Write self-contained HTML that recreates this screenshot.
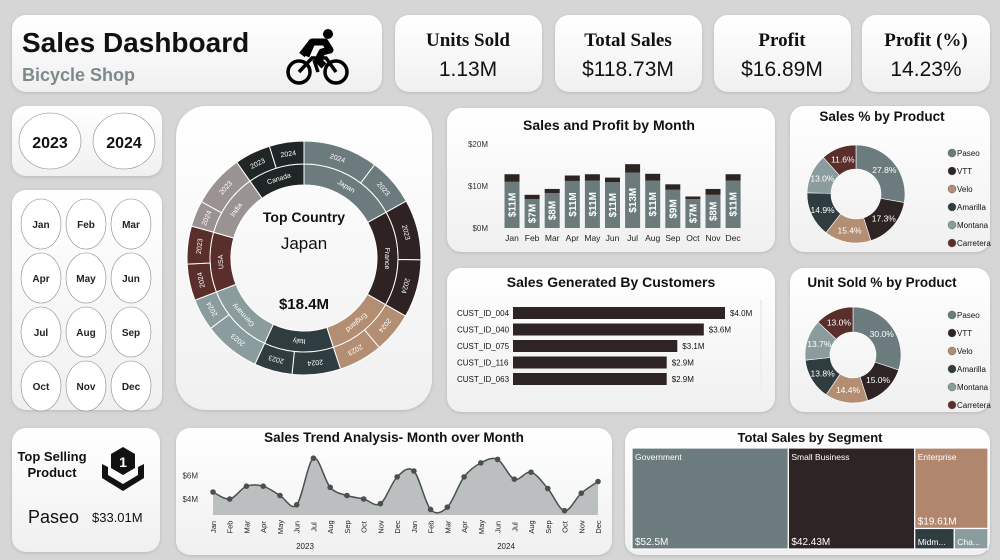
<!DOCTYPE html>
<html><head><meta charset="utf-8"><style>
body{margin:0;width:1000px;height:560px;background:#d6d6d6;overflow:hidden;font-family:"Liberation Sans",sans-serif}
svg{position:absolute;left:0;top:0}
text{font-family:"Liberation Sans",sans-serif}
text.serif{font-family:"Liberation Serif",serif}
</style></head><body>
<svg id="s" width="1000" height="560" viewBox="0 0 1000 560">
<defs>
<linearGradient id="pg" x1="0" y1="0" x2="0" y2="1"><stop offset="0" stop-color="#ffffff"/><stop offset="1" stop-color="#f0f0f0"/></linearGradient>
<filter id="sh" x="-5%" y="-5%" width="110%" height="115%"><feDropShadow dx="0" dy="1" stdDeviation="1.5" flood-color="#999" flood-opacity="0.5"/></filter>
</defs>
<g id="panels"></g>
<g id="static"></g>
<g id="charts"></g>
</svg>
<script>
// ----- chart data -----
const months=["Jan","Feb","Mar","Apr","May","Jun","Jul","Aug","Sep","Oct","Nov","Dec"];
const monthSales=[11,6.9,8.3,11.2,11.3,10.9,13.2,11.3,9.1,6.9,7.9,11.3];
const monthProfit=[1.8,1.0,1.0,1.3,1.5,1.1,2.0,1.6,1.3,0.6,1.4,1.5];
const monthLabels=["$11M","$7M","$8M","$11M","$11M","$11M","$13M","$11M","$9M","$7M","$8M","$11M"];
const barTicks=[0,10,20];
const custNames=["CUST_ID_004","CUST_ID_040","CUST_ID_075","CUST_ID_116","CUST_ID_063"];
const custValues=[4.0,3.6,3.1,2.9,2.9];
const products=["Paseo","VTT","Velo","Amarilla","Montana","Carretera"];
const salesPct=[27.8,17.3,15.4,14.9,13.0,11.6];
const unitPct=[30.0,15.0,14.4,13.8,13.7,13.0];
const trendValues=[4.6,4.0,5.1,5.1,4.3,3.5,7.5,5.0,4.3,4.0,3.6,5.9,6.4,3.1,3.3,5.9,7.1,7.4,5.7,6.3,4.9,3.0,4.5,5.5];
const trendTicks=[4,6];
const countries=["Japan","France","England","Italy","Germany","USA","India","Canada"];
const countrySales=[18.4,17.8,12.7,13.0,13.3,11.2,11.8,10.6];
const yearOrder=[["2024","2023"],["2023","2024"],["2024","2023"],["2024","2023"],["2023","2024"],["2024","2023"],["2024","2023"],["2023","2024"]];
const yearShare=[[0.61,0.39],[0.51,0.49],[0.48,0.52],[0.56,0.44],[0.64,0.36],[0.49,0.51],[0.33,0.67],[0.51,0.49]];
const segments=["Government","Small Business","Enterprise","Midm...","Cha..."];
const segValues=[52.5,42.43,19.61,2.7,2.3];
const segLabels=["$52.5M","$42.43M","$19.61M","",""];

const NS="http://www.w3.org/2000/svg";
function el(tag,attrs,parent,txt){const e=document.createElementNS(NS,tag);for(const k in attrs)e.setAttribute(k,attrs[k]);if(txt!==undefined)e.textContent=txt;parent.appendChild(e);return e;}
const P=document.getElementById('panels'),S=document.getElementById('static'),C=document.getElementById('charts');
const colP=["#6b7b7e","#2e2424","#b48e72","#2f3d40","#8a9c9e","#5a2e2a"];

// panels
const panels=[["title-card",12,15,370,77],["units-sold-card",395,15,147,77],["total-sales-card",555,15,147,77],["profit-card",714,15,137,77],["profit-pct-card",862,15,128,77],
["year-slicer",12,106,150,70],["month-slicer",12,190,150,220],["top-product-card",12,428,148,124],["country-sunburst-card",176,106,256,304],
["sales-profit-card",447,108,328,144],["customers-card",447,268,328,144],["sales-pct-card",790,106,200,146],["unit-pct-card",790,268,200,144],
["trend-card",176,428,436,127],["segment-card",625,428,365,127]];
panels.forEach(p=>{const r=el('rect',{x:p[1],y:p[2],width:p[3],height:p[4],rx:p[0]=="country-sunburst-card"?30:14,fill:"url(#pg)",filter:"url(#sh)"},P);

});

// title
let t=el('text',{x:22,y:52,'font-size':28,'font-weight':'bold',fill:'#111'},S,"Sales Dashboard");
t=el('text',{x:22,y:81,'font-size':18,'font-weight':'bold',fill:'#7d8a8c'},S,"Bicycle Shop");
// bicycle icon
const bike=el('g',{fill:'none',stroke:'#000','stroke-width':3.5},S);
el('circle',{cx:299,cy:72,r:11},bike);el('circle',{cx:336,cy:72,r:11},bike);
el('path',{d:'M299 72 L312 58 L326 58 L336 72 M314 60 L318 72',stroke:'#000'},bike);
el('circle',{cx:328,cy:34,r:5,fill:'#000',stroke:'none'},bike);
el('path',{d:'M302 55 L312 42 L325 42 L330 50 L322 52 L318 60 L324 66 M312 42 L306 56',stroke:'#000','stroke-width':7,'stroke-linejoin':'round'},bike);

// KPIs
[["units-sold",468,"Units Sold","1.13M"],["total-sales",628,"Total Sales","$118.73M"],["profit",782,"Profit","$16.89M"],["profit-pct",926,"Profit (%)","14.23%"]].forEach(k=>{
 let a=el('text',{x:k[1],y:46,'text-anchor':'middle','font-size':19,'font-weight':'bold',fill:'#111',class:'serif'},S,k[2]);
 let b=el('text',{x:k[1],y:76,'text-anchor':'middle','font-size':21,fill:'#111'},S,k[3]);});

// year slicer
[["2023",50],["2024",124]].forEach(y=>{const g=el('g',{},S);
 el('ellipse',{cx:y[1],cy:141,rx:31,ry:28,fill:'#fff',stroke:'#888','stroke-width':0.6},g);el('text',{x:y[1],y:148,'text-anchor':'middle','font-size':16,'font-weight':'bold',fill:'#111'},g,y[0]);});
// month slicer
months.forEach((m,i)=>{const cx=41+(i%3)*45,cy=224+Math.floor(i/3)*54;const g=el('g',{},S);
 el('ellipse',{cx:cx,cy:cy,rx:20,ry:25,fill:'#fff',stroke:'#888','stroke-width':0.6},g);el('text',{x:cx,y:cy+4,'text-anchor':'middle','font-size':10,'font-weight':'bold',fill:'#222'},g,m);});
// top product
t=el('text',{x:52,y:461,'text-anchor':'middle','font-size':13,'font-weight':'bold',fill:'#111'},S,"Top Selling");
el('text',{x:52,y:477,'text-anchor':'middle','font-size':13,'font-weight':'bold',fill:'#111'},S,"Product");
const badge=el('g',{},S);
el('path',{d:'M123 447 L135 454 L135 468 L123 475 L111 468 L111 454 Z',fill:'#111'},badge);
el('path',{d:'M102 464 L108 467 L108 475 L123 484 L138 475 L138 467 L144 464 L144 478 L123 491 L102 478 Z',fill:'#111'},badge);
el('text',{x:123,y:467,'text-anchor':'middle','font-size':14,'font-weight':'bold',fill:'#fff'},badge,"1");
t=el('text',{x:28,y:523,'font-size':18,fill:'#111'},S,"Paseo");
t=el('text',{x:92,y:522,'font-size':13,fill:'#111'},S,"$33.01M");

// ---- sunburst ----
(function(){const cx=304,cy=258,r0=73,r1=94,r2=117;const tot=countrySales.reduce((a,b)=>a+b,0);
 const cc=["#6b7b7e","#2e2222","#b48e72","#2f3d40","#8a9c9e","#5a2e2a","#9a9391","#1f2625"];
 function pt(r,a){const rad=(a-90)*Math.PI/180;return [cx+r*Math.cos(rad),cy+r*Math.sin(rad)];}
 function arc(ri,ro,a0,a1){const p0=pt(ro,a0),p1=pt(ro,a1),p2=pt(ri,a1),p3=pt(ri,a0),lg=(a1-a0)>180?1:0;
  return `M${p0} A${ro} ${ro} 0 ${lg} 1 ${p1} L${p2} A${ri} ${ri} 0 ${lg} 0 ${p3} Z`;}
 function lab(r,a,txt,g){const p=pt(r,a);el('text',{x:p[0],y:p[1]+2.5,'text-anchor':'middle','font-size':7,fill:'#fff',transform:`rotate(${a} ${p[0]} ${p[1]})`},g,txt);}
 let a=0;countries.forEach((c,i)=>{const span=countrySales[i]/tot*360;const g=el('g',{},C);
  
  
  el('path',{d:arc(r0,r1,a,a+span),fill:cc[i],stroke:'#fff','stroke-width':1},g);lab((r0+r1)/2,a+span/2,c,g);
  let b=a;yearOrder[i].forEach((y,j)=>{const s2=span*yearShare[i][j];el('path',{d:arc(r1,r2,b,b+s2),fill:cc[i],stroke:'#fff','stroke-width':1},g);lab((r1+r2)/2,b+s2/2,y,g);b+=s2;});
  a+=span;});
 let x=el('text',{x:cx,y:222,'text-anchor':'middle','font-size':14,'font-weight':'bold',fill:'#111'},C,"Top Country");
 x=el('text',{x:cx,y:249,'text-anchor':'middle','font-size':17,fill:'#111'},C,countries[0]);
 x=el('text',{x:cx,y:309,'text-anchor':'middle','font-size':15,'font-weight':'bold',fill:'#111'},C,"$"+countrySales[0]+"M");
})();

// ---- sales & profit bar chart ----
(function(){const y0=228,k=4.2,x0=512,dx=20.1,w=15;const g=el('g',{},C);
 let tt=el('text',{x:609,y:130,'text-anchor':'middle','font-size':14,'font-weight':'bold',fill:'#111'},g,"Sales and Profit by Month");
 barTicks.forEach(v=>{el('text',{x:488,y:y0-v*k+3,'text-anchor':'end','font-size':8,fill:'#333'},g,"$"+v+"M");});
 months.forEach((m,i)=>{const cx=x0+i*dx;const hs=monthSales[i]*k,hp=monthProfit[i]*k;
  const b=el('rect',{x:cx-w/2,y:y0-hs,width:w,height:hs,fill:'#6b7b7b'},g);
  const p=el('rect',{x:cx-w/2,y:y0-hs-hp,width:w,height:hp,fill:'#2e2424'},g);
  el('text',{x:cx+3.5,y:y0-hs/2,'text-anchor':'middle','font-size':10,'font-weight':'bold',fill:'#fff',transform:`rotate(-90 ${cx+3.5} ${y0-hs/2})`},g,monthLabels[i]);
  el('text',{x:cx,y:241,'text-anchor':'middle','font-size':8.5,fill:'#222'},g,m);});
})();

// ---- customers ----
(function(){const g=el('g',{},C);
 let tt=el('text',{x:611,y:287,'text-anchor':'middle','font-size':14,'font-weight':'bold',fill:'#111'},g,"Sales Generated By Customers");
 const x0=513,k=53;custNames.forEach((n,i)=>{const cy=313+i*16.5;el('text',{x:457,y:cy+3,'font-size':8,fill:'#111'},g,n);
  const b=el('rect',{x:x0,y:cy-6,width:custValues[i]*k,height:12,fill:'#2e2424'},g);
  el('text',{x:x0+custValues[i]*k+5,y:cy+3,'font-size':8,fill:'#111'},g,"$"+custValues[i].toFixed(1)+"M");});
 el('rect',{x:760,y:300,width:2,height:90,fill:'#eee'},g);
})();

// ---- donuts ----
function donut(name,title,ty,cx,cy,ro,ri,vals,ly){const g=el('g',{},C);
 let tt=el('text',{x:882,y:ty,'text-anchor':'middle','font-size':13.5,'font-weight':'bold',fill:'#111'},g,title);
 const tot=vals.reduce((a,b)=>a+b,0);let a=0;
 vals.forEach((v,i)=>{const s=v/tot*2*Math.PI,a1=a+s;const f=(r,an)=>[cx+r*Math.sin(an),cy-r*Math.cos(an)];
  const p0=f(ro,a),p1=f(ro,a1),p2=f(ri,a1),p3=f(ri,a),lg=s>Math.PI?1:0;
  const sl=el('path',{d:`M${p0} A${ro} ${ro} 0 ${lg} 1 ${p1} L${p2} A${ri} ${ri} 0 ${lg} 0 ${p3} Z`,fill:colP[i],stroke:'#fff','stroke-width':0.6},g);
  
  const m=f((ro+ri)/2,a+s/2);el('text',{x:m[0],y:m[1]+3,'text-anchor':'middle','font-size':8.5,fill:'#fff'},g,v.toFixed(1)+"%");a=a1;});
 products.forEach((p,i)=>{const yy=ly+i*18;const lg=el('g',{},g);
  el('circle',{cx:952,cy:yy,r:4,fill:colP[i],stroke:'#666','stroke-width':0.5},lg);el('text',{x:957,y:yy+3,'font-size':8,fill:'#111'},lg,p);});
}
donut('sales-pct-donut','Sales % by Product',121,856,194,49,25,salesPct,153);
donut('unit-pct-donut','Unit Sold % by Product',287,853,355,48,23,unitPct,315);

// ---- trend ----
(function(){const g=el('g',{},C);
 let tt=el('text',{x:394,y:442,'text-anchor':'middle','font-size':13.5,'font-weight':'bold',fill:'#111'},g,"Sales Trend Analysis- Month over Month");
 const x0=213,dx=16.74,base=515,Y=v=>499-(v-4)*11.65,X=i=>x0+i*dx;
 trendTicks.forEach(v=>el('text',{x:198,y:Y(v)+3,'text-anchor':'end','font-size':8,fill:'#333'},g,"$"+v+"M"));
 const pts=trendValues.map((v,i)=>[X(i),Y(v)]);
 let d="M"+pts[0];for(let i=1;i<pts.length;i++){const p0=pts[Math.max(0,i-2)],p1=pts[i-1],p2=pts[i],p3=pts[Math.min(pts.length-1,i+1)];
  const c1=[p1[0]+(p2[0]-p0[0])/6,p1[1]+(p2[1]-p0[1])/6],c2=[p2[0]-(p3[0]-p1[0])/6,p2[1]-(p3[1]-p1[1])/6];d+=` C${c1} ${c2} ${p2}`;}
 const ar=el('path',{d:d+` L${X(23)},${base} L${X(0)},${base} Z`,fill:'#bcbfbf'},g);
 const ln=el('path',{d:d,fill:'none',stroke:'#4a4f50','stroke-width':1.5},g);
 pts.forEach((p,i)=>{const c=el('circle',{cx:p[0],cy:p[1],r:2.8,fill:'#4a4f50'},g);
  const m=months[i%12];el('text',{x:p[0]+3,y:527,'text-anchor':'middle','font-size':7.5,fill:'#222',transform:`rotate(-90 ${p[0]+3} 527)`},g,m);});
 el('text',{x:305,y:549,'text-anchor':'middle','font-size':8,fill:'#222'},g,"2023");
 el('text',{x:506,y:549,'text-anchor':'middle','font-size':8,fill:'#222'},g,"2024");
})();

// ---- treemap ----
(function(){const g=el('g',{},C);
 let tt=el('text',{x:810,y:442,'text-anchor':'middle','font-size':13,'font-weight':'bold',fill:'#111'},g,"Total Sales by Segment");
 const X0=632,Y0=448,W=356,H=101,tot=segValues.reduce((a,b)=>a+b,0);const cols=["#6b7b7e","#2e2425","#b0876d","#2f3d40","#8a9c9e"];
 const rects=[];let x=X0;
 for(let i=0;i<2;i++){const w=segValues[i]/tot*W;rects.push([x,Y0,w,H]);x+=w;}
 const cw=X0+W-x,rest=segValues[2]+segValues[3]+segValues[4];const h2=segValues[2]/rest*H;rects.push([x,Y0,cw,h2]);
 const sm=segValues[3]+segValues[4];const w3=segValues[3]/sm*cw;rects.push([x,Y0+h2,w3,H-h2]);rects.push([x+w3,Y0+h2,cw-w3,H-h2]);
 rects.forEach((r,i)=>{const rr=el('rect',{x:r[0],y:r[1],width:r[2],height:r[3],fill:cols[i],stroke:'#fff','stroke-width':1.2},g);
  
  if(i<3){el('text',{x:r[0]+3,y:r[1]+12,'font-size':8.5,fill:'#fff'},g,segments[i]);el('text',{x:r[0]+3,y:r[1]+r[3]-4,'font-size':10,fill:'#fff'},g,segLabels[i]);}
  else el('text',{x:r[0]+3,y:r[1]+r[3]-4,'font-size':8.5,fill:'#fff'},g,segments[i]);});
})();
</script>
</body></html>
